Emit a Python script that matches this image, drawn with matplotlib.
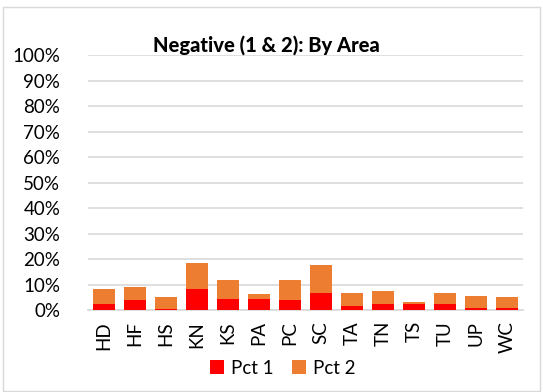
import matplotlib
matplotlib.use("Agg")
import matplotlib.pyplot as plt
import numpy as np
from matplotlib.patches import Rectangle
from matplotlib.ticker import FuncFormatter

categories = ["HD", "HF", "HS", "KN", "KS", "PA", "PC", "SC", "TA", "TN", "TS", "TU", "UP", "WC"]
pct1 = [2.5, 3.8, 0.2, 8.2, 4.4, 4.4, 3.8, 6.8, 1.7, 2.5, 2.5, 2.5, 0.9, 0.9]
pct2 = [5.7, 5.2, 5.0, 10.2, 7.5, 1.8, 8.1, 10.8, 5.1, 5.1, 0.6, 4.3, 4.5, 4.3]
yticks = list(range(0, 101, 10))

plt.rcParams['font.family'] = ['Lato', 'DejaVu Sans']

fig = plt.figure(figsize=(5.43, 3.92), dpi=100)
ax = fig.add_axes([88/543, 1-310/392, 435/543, (310-55.3)/392])

x = np.arange(len(categories))
ax.bar(x, pct1, width=0.71, color="#FF0000", label="Pct 1", zorder=3)
ax.bar(x, pct2, width=0.71, bottom=pct1, color="#ED7D31", label="Pct 2", zorder=3)

ax.set_xlim(-0.5, len(categories)-0.5)
ax.set_ylim(0, 100)
ax.set_yticks(yticks)
ax.yaxis.set_major_formatter(FuncFormatter(lambda v, p: f"{int(v)}%"))
ax.set_xticks(x)
ax.set_xticklabels(categories, rotation=90)
ax.tick_params(axis='both', length=0, labelsize=13.5, colors="black")
ax.tick_params(axis='y', pad=20)
ax.tick_params(axis='x', pad=8)
ax.grid(axis='y', color="#D9D9D9", linewidth=1.2, zorder=0)
for s in ["top", "right", "left"]:
    ax.spines[s].set_visible(False)
ax.spines["bottom"].set_color("#D9D9D9")
ax.spines["bottom"].set_linewidth(1.2)

fig.text(266/543, 1-45/392, "Negative (1 & 2): By Area", ha="center", va="center",
         fontsize=14.5, fontweight="black")

leg = fig.legend(loc="center", bbox_to_anchor=(283/543, 1-368/392), ncol=2, frameon=False,
                 fontsize=13.5, handlelength=0.7, handleheight=0.7, columnspacing=1.0,
                 handletextpad=0.4)

fig.patches.append(Rectangle((3/543, 1/392), 537/543, 1-8/392, transform=fig.transFigure,
                             fill=False, edgecolor="#D9D9D9", linewidth=1.0))

fig.savefig("out.png", dpi=100)
